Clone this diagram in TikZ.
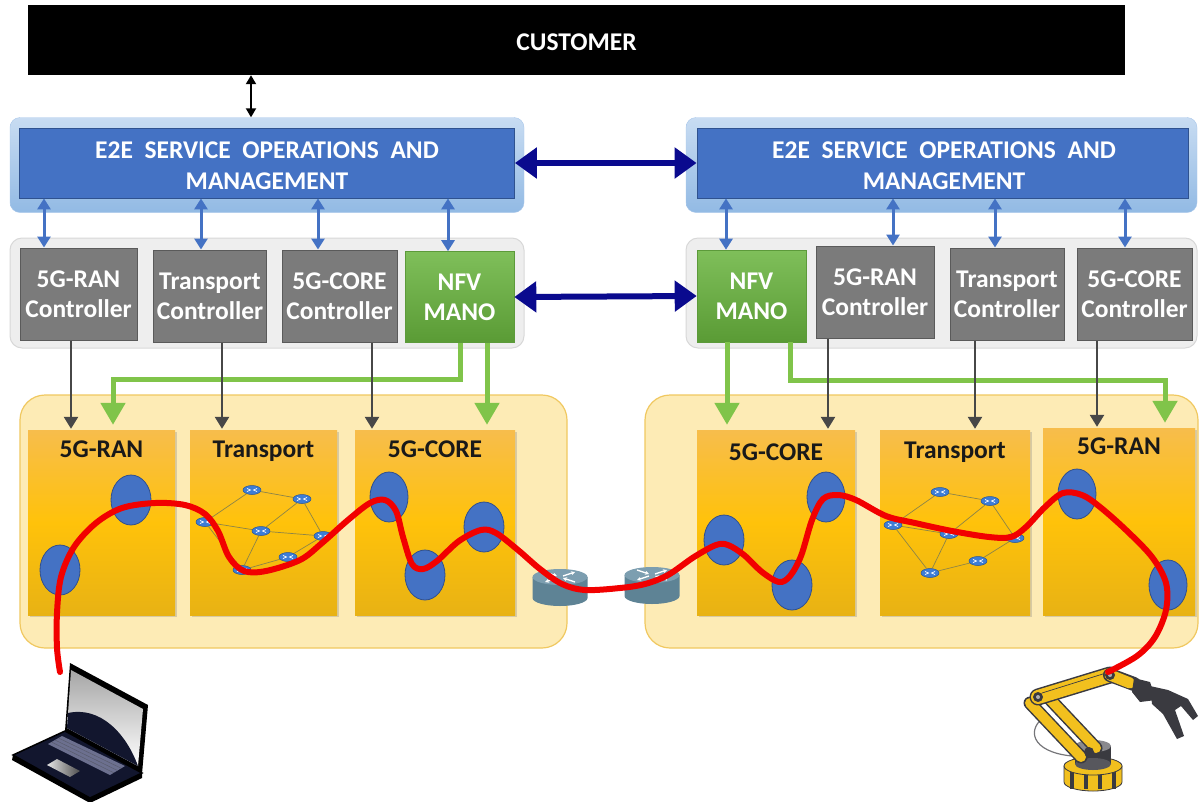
\documentclass[tikz,border=0pt]{standalone}
\usepackage{fontspec}
\setmainfont{Carlito}
\usetikzlibrary{arrows.meta,shadows,shapes.geometric,positioning,calc}

\definecolor{navy}{HTML}{0A0A8E}
\definecolor{e2efill}{HTML}{4472C4}
\definecolor{e2eedge}{HTML}{2F528F}
\definecolor{glowtop}{HTML}{C8DCF2}
\definecolor{glowbot}{HTML}{92BAE4}
\definecolor{glowedge}{HTML}{A9C7EA}
\definecolor{panelgray}{HTML}{EEEEEE}
\definecolor{paneledge}{HTML}{D8D8D8}
\definecolor{ctrlgray}{HTML}{7B7B7B}
\definecolor{ctrledge}{HTML}{5A5A5A}
\definecolor{manotop}{HTML}{7FBF5A}
\definecolor{manobot}{HTML}{5A9B35}
\definecolor{manoedge}{HTML}{5C9A3A}
\definecolor{greenline}{HTML}{80C44A}
\definecolor{darkarrow}{HTML}{474747}
\definecolor{domfill}{HTML}{FDEBB5}
\definecolor{domedge}{HTML}{F0C860}
\definecolor{boxtop}{HTML}{F7BD4C}
\definecolor{boxmid}{HTML}{FFC20A}
\definecolor{boxbot}{HTML}{E8B214}
\definecolor{vnffill}{HTML}{4472C4}
\definecolor{vnfedge}{HTML}{2F4F8F}
\definecolor{minifill}{HTML}{3D7DD6}
\definecolor{miniedge}{HTML}{24539A}
\definecolor{linkcolor}{HTML}{8C8448}
\definecolor{pathred}{HTML}{F20000}
\definecolor{routertop}{HTML}{7C9EB0}
\definecolor{routerside}{HTML}{5E8395}
\definecolor{laptopnavy}{HTML}{12162E}
\definecolor{keyboard}{HTML}{6C708F}
\definecolor{robotyellow}{HTML}{F2C01E}
\definecolor{robotdark}{HTML}{3A3A40}

\newcommand\custfont{\fontsize{25.5}{30}\selectfont\bfseries}
\newcommand\eefont{\fontsize{25.5}{31}\selectfont\bfseries}
\newcommand\ctrlfont{\fontsize{25.5}{30}\selectfont\bfseries}

\tikzset{
  custbox/.style={fill=black, text=white, font=\custfont, inner sep=0pt},
  glowbox/.style={rounded corners=10pt, draw=glowedge, top color=glowtop, bottom color=glowbot, inner sep=0pt},
  e2ebox/.style={fill=e2efill, draw=e2eedge, line width=0.8pt, inner sep=0pt},
  e2etext/.style={text=white, font=\eefont, align=center, inner sep=0pt},
  ctrlpanel/.style={rounded corners=12pt, fill=panelgray, draw=paneledge, line width=1pt, inner sep=0pt},
  ctrlbox/.style={fill=ctrlgray, draw=ctrledge, line width=1pt, text=white, font=\ctrlfont, align=center, inner sep=0pt},
  manobox/.style={top color=manotop, bottom color=manobot, draw=manoedge, line width=0.6pt, text=white, font=\ctrlfont, align=center, inner sep=0pt},
  dompanel/.style={rounded corners=25pt, fill=domfill, draw=domedge, line width=1.2pt, inner sep=0pt},
  dombox/.style={top color=boxtop, bottom color=boxbot, middle color=boxmid,
    drop shadow={shadow xshift=2pt, shadow yshift=-2pt, opacity=0.3}, inner sep=0pt},
  domlabel/.style={font=\ctrlfont, text=black!90, inner sep=0pt},
  vnf/.style={ellipse, fill=vnffill, draw=vnfedge, line width=0.8pt, inner sep=0pt,
    minimum width=40pt, minimum height=50pt},
  mini/.style={ellipse, fill=minifill, draw=miniedge, line width=0.5pt, inner sep=0pt,
    minimum width=18pt, minimum height=9pt,
    path picture={\draw[white, line width=0.7pt]
      ([xshift=-5pt,yshift=1.5pt]path picture bounding box.center) --
      ([xshift=-1.5pt]path picture bounding box.center) --
      ([xshift=-5pt,yshift=-1.5pt]path picture bounding box.center)
      ([xshift=5pt,yshift=1.5pt]path picture bounding box.center) --
      ([xshift=1.5pt]path picture bounding box.center) --
      ([xshift=5pt,yshift=-1.5pt]path picture bounding box.center);}},
  link/.style={draw=linkcolor, line width=0.7pt},
  e2earrow/.style={draw=e2efill, line width=3pt,
    {Triangle[width=13pt,length=11pt]}-{Triangle[width=13pt,length=11pt]}},
  navyarrow/.style={draw=navy, line width=6pt,
    {Triangle[width=30pt,length=22pt]}-{Triangle[width=30pt,length=22pt]}},
  custarrow/.style={draw=black, line width=2pt,
    {Triangle[width=10pt,length=9pt]}-{Triangle[width=10pt,length=9pt]}},
  ctrlarrow/.style={draw=darkarrow, line width=2.5pt, -{Triangle[width=14pt,length=12pt]}, shorten >=1pt},
  manoarrow/.style={draw=greenline, line width=5pt, -{Triangle[width=24pt,length=22pt]}, shorten >=5pt},
  slicepath/.style={draw=pathred, line width=6pt, line cap=round, line join=round},
  armbar/.style={draw=robotdark, line width=0.8pt, fill=robotyellow},
}

\begin{document}
\begin{tikzpicture}[x=1pt,y=-1pt]
\useasboundingbox (0,0) rectangle (1199,801);

% ---------- customer ----------
\node[custbox, minimum width=1097pt, minimum height=70pt] (cust) at (576.5,40) {};
\node[custbox] (custt) at (576.5,42) {CUSTOMER};

% ---------- E2E service operations ----------
\node[glowbox, minimum width=514pt, minimum height=95pt] (e2eLglow) at (267,165) {};
\node[e2ebox, minimum width=495pt, minimum height=70pt] (e2eL) at (267,163) {};
\node[e2etext] (e2eLt) at (267,166) {E2E\ \ SERVICE\ \ OPERATIONS\ \ AND\\MANAGEMENT};
\node[glowbox, minimum width=511pt, minimum height=95pt] (e2eRglow) at (941.5,165) {};
\node[e2ebox, minimum width=491pt, minimum height=70pt] (e2eR) at (942.5,163) {};
\node[e2etext] (e2eRt) at (944,166) {E2E\ \ SERVICE\ \ OPERATIONS\ \ AND\\MANAGEMENT};

% ---------- controller panels ----------
\node[ctrlpanel, minimum width=514pt, minimum height=110pt] (panL) at (267,293) {};
\node[ctrlpanel, minimum width=511pt, minimum height=110pt] (panR) at (941.5,293) {};

\node[ctrlbox, minimum width=117pt, minimum height=92pt] (lran)  at (78.5,294) {5G-RAN\\Controller};
\node[ctrlbox, minimum width=113pt, minimum height=92pt] (ltr)   at (210,296)  {Transport\\Controller};
\node[ctrlbox, minimum width=115pt, minimum height=92pt] (lcore) at (339.5,296) {5G-CORE\\Controller};
\node[manobox, minimum width=109pt, minimum height=91pt] (lnfv)  at (459.5,297) {NFV\\MANO};

\node[manobox, minimum width=109pt, minimum height=92pt] (rnfv)  at (751.5,296) {NFV\\MANO};
\node[ctrlbox, minimum width=118pt, minimum height=92pt] (rran)  at (875,292)   {5G-RAN\\Controller};
\node[ctrlbox, minimum width=114pt, minimum height=92pt] (rtr)   at (1007,294)  {Transport\\Controller};
\node[ctrlbox, minimum width=115pt, minimum height=92pt] (rcore) at (1134.5,294) {5G-CORE\\Controller};

% ---------- domain panels ----------
\node[dompanel, minimum width=547pt, minimum height=253pt] (domL) at (293.5,521.5) {};
\node[dompanel, minimum width=553pt, minimum height=253pt] (domR) at (921.5,521.5) {};

\node[dombox, minimum width=147pt, minimum height=185pt] (lRAN)  at (101.5,522.5) {};
\node[dombox, minimum width=147pt, minimum height=185pt] (lTR)   at (263.5,522.5) {};
\node[dombox, minimum width=160pt, minimum height=185pt] (lCORE) at (435,522.5) {};
\node[dombox, minimum width=158pt, minimum height=185pt] (rCORE) at (776,522.5) {};
\node[dombox, minimum width=150pt, minimum height=185pt] (rTR)   at (955,522.5) {};
\node[dombox, minimum width=152pt, minimum height=187pt] (rRAN)  at (1119,521.5) {};

\node[domlabel, below=11pt of lRAN.north]  (lRANt)  {5G-RAN};
\node[domlabel, below=11pt of lTR.north]   (lTRt)   {Transport};
\node[domlabel, below=11pt of lCORE.north] (lCOREt) {5G-CORE};
\node[domlabel, below=14pt of rCORE.north] (rCOREt) {5G-CORE};
\node[domlabel, below=12pt of rTR.north]   (rTRt)   {Transport};
\node[domlabel, below=10pt of rRAN.north]  (rRANt)  {5G-RAN};

% ---------- network functions ----------
\node[vnf] (f1) at (60,570) {};
\node[vnf] (f2) at (131,500) {};
\node[vnf, minimum width=38pt] (f3) at (389,497) {};
\node[vnf] (f4) at (425,575) {};
\node[vnf] (f5) at (484,527) {};
\node[vnf] (f6) at (724,540) {};
\node[vnf] (f7) at (792,585) {};
\node[vnf, minimum width=38pt] (f8) at (826,497) {};
\node[vnf, minimum width=38pt] (f9) at (1077,494) {};
\node[vnf, minimum width=38pt] (f10) at (1168,585) {};

% ---------- transport meshes ----------
\node[mini] (a1) at (252,490) {};
\node[mini] (a2) at (302,499) {};
\node[mini] (a3) at (205,522) {};
\node[mini] (a4) at (261,531) {};
\node[mini] (a5) at (323,536) {};
\node[mini] (a6) at (288,557) {};
\node[mini] (a7) at (242,570) {};
\draw[link] (a1) -- (a2) (a1) -- (a3) (a2) -- (a4) (a2) -- (a5) (a3) -- (a4)
  (a4) -- (a5) (a3) -- (a7) (a4) -- (a7) (a7) -- (a6) (a6) -- (a5);

\node[mini] (b1) at (940,492) {};
\node[mini] (b2) at (990,501) {};
\node[mini] (b3) at (893,525) {};
\node[mini] (b4) at (949,534) {};
\node[mini] (b5) at (1015,538) {};
\node[mini] (b6) at (978,561) {};
\node[mini] (b7) at (930,573) {};
\draw[link] (b1) -- (b2) (b1) -- (b3) (b2) -- (b4) (b2) -- (b5) (b3) -- (b4)
  (b4) -- (b5) (b3) -- (b7) (b4) -- (b7) (b7) -- (b6) (b6) -- (b5);

% ---------- border routers ----------
\foreach \cx/\cy in {560/577, 652/575} {
  \fill[routerside] (\cx-27.5,\cy) -- (\cx-27.5,\cy+21)
    arc[start angle=180, end angle=0, x radius=27.5, y radius=8] -- (\cx+27.5,\cy) -- cycle;
  \fill[routertop] (\cx,\cy) ellipse[x radius=27.5, y radius=8];
  \draw[white, line width=1.3pt, -{Stealth[length=4pt,width=4pt]}] (\cx-3,\cy+1) -- (\cx-15,\cy+5);
  \draw[white, line width=1.3pt, -{Stealth[length=4pt,width=4pt]}] (\cx-15,\cy-5) -- (\cx-3,\cy-1);
  \draw[white, line width=1.3pt, -{Stealth[length=4pt,width=4pt]}] (\cx+3,\cy-1) -- (\cx+15,\cy-5);
  \draw[white, line width=1.3pt, -{Stealth[length=4pt,width=4pt]}] (\cx+15,\cy+5) -- (\cx+3,\cy+1);
}

% ---------- arrow columns ----------
\coordinate (c0) at (251,0);
\coordinate (u1) at (44,0);   \coordinate (u2) at (201,0);
\coordinate (u3) at (318,0);  \coordinate (u4) at (448,0);
\coordinate (u5) at (726,0);  \coordinate (u6) at (893,0);
\coordinate (u7) at (995,0);  \coordinate (u8) at (1125,0);
\coordinate (d1) at (71,0);   \coordinate (d2) at (222,0);  \coordinate (d3) at (372,0);
\coordinate (d4) at (828,0);  \coordinate (d5) at (975,0);  \coordinate (d6) at (1097,0);
\coordinate (g1) at (460,0);  \coordinate (g2) at (113,0);  \coordinate (g3) at (487,0);
\coordinate (g4) at (727,0);  \coordinate (g5) at (790,0);  \coordinate (g6) at (1165,0);
\coordinate (gl) at (0,379);  \coordinate (gr) at (0,380);

\draw[custarrow] (cust.south -| c0) -- (e2eLglow.north -| c0);

\draw[e2earrow] (e2eL.south -| u1) -- (lran.north -| u1);
\draw[e2earrow] (e2eL.south -| u2) -- (ltr.north -| u2);
\draw[e2earrow] (e2eL.south -| u3) -- (lcore.north -| u3);
\draw[e2earrow] (e2eL.south -| u4) -- (lnfv.north -| u4);
\draw[e2earrow] (e2eR.south -| u5) -- (rnfv.north -| u5);
\draw[e2earrow] (e2eR.south -| u6) -- (rran.north -| u6);
\draw[e2earrow] (e2eR.south -| u7) -- (rtr.north -| u7);
\draw[e2earrow] (e2eR.south -| u8) -- (rcore.north -| u8);

\draw[navyarrow] (e2eL.east) -- (e2eR.west);
\draw[navyarrow] (lnfv.east) -- (rnfv.west);

\draw[manoarrow] (lnfv.south -| g1) -- (gl -| g1) -| (lRAN.north -| g2);
\draw[manoarrow] (lnfv.south -| g3) -- (lCORE.north -| g3);
\draw[manoarrow] (rnfv.south -| g4) -- (rCORE.north -| g4);
\draw[manoarrow] (rnfv.south -| g5) -- (gr -| g5) -| (rRAN.north -| g6);

\draw[ctrlarrow] (lran.south -| d1)  -- (lRAN.north -| d1);
\draw[ctrlarrow] (ltr.south -| d2)   -- (lTR.north -| d2);
\draw[ctrlarrow] (lcore.south -| d3) -- (lCORE.north -| d3);
\draw[ctrlarrow] (rran.south -| d4)  -- (rCORE.north -| d4);
\draw[ctrlarrow] (rtr.south -| d5)   -- (rTR.north -| d5);
\draw[ctrlarrow] (rcore.south -| d6) -- (rRAN.north -| d6);

% ---------- robot arm ----------
\begin{scope}
  % cable
  \draw[robotdark!70, line width=1.2pt] (1046,716) .. controls (1026,728) and (1030,752) .. (1072,756);
  % base ring
  \fill[robotyellow, draw=robotdark, line width=0.8pt] (1064,766) -- (1064,782)
    arc[start angle=180, end angle=0, x radius=29, y radius=9] -- (1122,766) -- cycle;
  \foreach \px in {1072,1086,1100,1114} \fill[robotdark] (\px-1.8,771) rectangle (\px+1.8,789);
  \fill[robotyellow, draw=robotdark, line width=0.8pt] (1093,766) ellipse[x radius=29, y radius=9];
  % turntable
  \fill[robotdark] (1075,746) rectangle (1111,764);
  \fill[robotdark!85] (1093,764) ellipse[x radius=18, y radius=6];
  \fill[robotdark!60] (1093,746) ellipse[x radius=18, y radius=6];
  % lower arm: two plates
  \draw[robotdark, line width=13pt, line cap=round] (1081,757) -- (1030,703);
  \draw[robotyellow, line width=10pt, line cap=round] (1081,757) -- (1030,703);
  \draw[robotdark, line width=13pt, line cap=round] (1096,748) -- (1046,695);
  \draw[robotyellow, line width=10pt, line cap=round] (1096,748) -- (1046,695);
  % upper arm
  \draw[robotdark, line width=17pt, line cap=round] (1038,697) -- (1110,675);
  \draw[robotyellow, line width=14pt, line cap=round] (1038,697) -- (1110,675);
  \draw[robotdark, line width=0.7pt] (1042,693) -- (1106,673);
  % forearm and wrist motor
  \draw[robotdark, line width=14pt, line cap=round] (1110,675) -- (1134,684);
  \draw[robotyellow, line width=11pt, line cap=round] (1110,675) -- (1130,683);
  \fill[robotdark] (1134,678) -- (1150,682) -- (1156,700) -- (1140,702) -- (1132,692) -- cycle;
  % gripper
  \fill[robotdark] (1150,686) -- (1168,690) -- (1188,699) -- (1198,716) -- (1193,720)
    -- (1181,706) -- (1175,710) -- (1184,736) -- (1177,739) -- (1163,714) -- (1152,704) -- cycle;
  % joints
  \fill[robotdark] (1038,697) circle[radius=5];
  \fill[robotdark] (1110,675) circle[radius=5];
  \fill[robotdark] (1089,752) circle[radius=5];
  \fill[robotdark!40] (1038,697) circle[radius=2];
  \fill[robotdark!40] (1110,675) circle[radius=2];
\end{scope}

% ---------- end-to-end slice path ----------
\coordinate (pStart) at (60,672);
\coordinate (pEnd) at (1108,672);
\draw[slicepath] plot[smooth, tension=0.55] coordinates {
  (60,672) (57,648) (57,613) (61,577) (74,547) (96,523) (122,508) (155,503)
  (185,505) (205,514) (218,531) (229,557) (244,571) (266,571) (300,560) (322,543)
  (348,520) (370,503) (385,500) (396,511) (403,537) (412,564) (423,569) (437,561)
  (459,541) (481,530) (496,533) (518,550) (540,569) (562,584) (585,590) (620,588)
  (645,584) (668,575) (694,557) (716,545) (728,545) (744,555) (762,572) (779,582)
  (790,576) (801,556) (812,520) (823,499) (838,495) (856,500) (886,516) (915,523)
  (952,531) (989,537) (1011,537) (1026,527) (1045,507) (1063,493) (1082,495)
  (1100,507) (1126,530) (1152,557) (1166,583) (1166,610) (1155,637) (1137,656) (1108,672)};

% ---------- laptop ----------
\begin{scope}
  \fill[black] (65,731) -- (70,663) -- (148,705) -- (142,774) -- cycle;
  \shade[top color=gray!70, bottom color=white] (71,670) -- (143,709) -- (138,766) -- (67,728) -- cycle;
  \fill[laptopnavy] (68,713) .. controls (100,706) and (126,733) .. (138,766) -- (67,728) -- cycle;
  \fill[black] (13,755) -- (90,798) -- (142,773) -- (142,778) -- (90,803) -- (12,760) -- cycle;
  \fill[laptopnavy, draw=black, line width=1.5pt] (65,731) -- (142,773) -- (90,798) -- (13,755) -- cycle;
  \fill[keyboard] (48,744) -- (62,736) -- (125,766) -- (110,775) -- cycle;
  \foreach \t in {0.25,0.5,0.75}
    \draw[laptopnavy!70, line width=0.5pt] ($(48,744)!\t!(62,736)$) -- ($(110,775)!\t!(125,766)$);
  \shade[left color=gray!20, right color=black!70] (47,765) -- (57,759) -- (80,771) -- (70,777) -- cycle;
\end{scope}
\end{tikzpicture}
\end{document}
